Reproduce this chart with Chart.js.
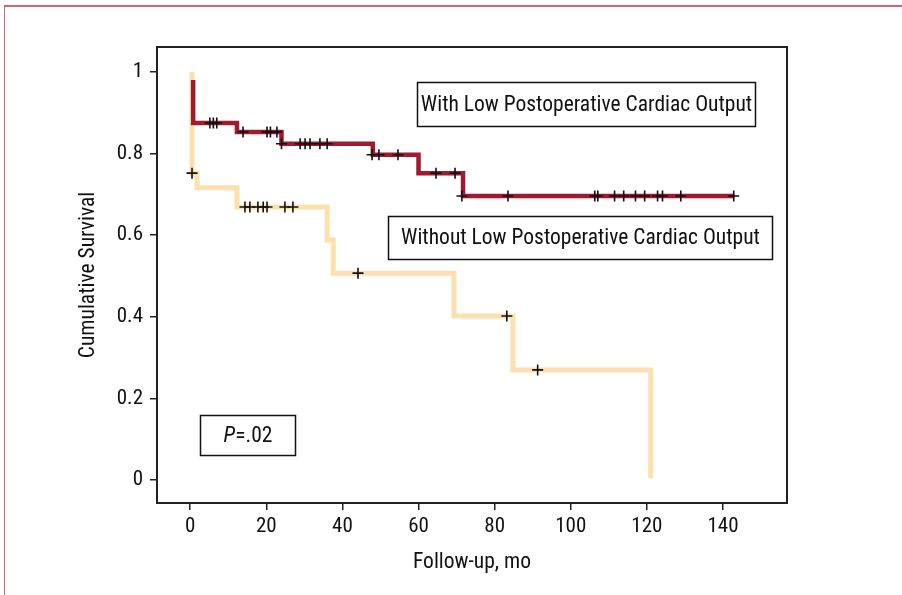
<!DOCTYPE html>
<html>
<head>
<meta charset="utf-8">
<script src="https://cdn.jsdelivr.net/npm/chart.js@4"></script>
<style>
  html, body { margin: 0; padding: 0; background: #fff; }
  #wrap { position: relative; width: 902px; height: 595px; }
  #frame { position: absolute; left: 4px; top: 5px; right: 0; bottom: 0; border-top: 2px solid #c9687b; border-left: 1px solid #c9687b; pointer-events: none; }
</style>
</head>
<body>
<div id="wrap">
  <canvas id="kmChart" width="902" height="595"></canvas>
  <div id="frame"></div>
</div>
<script>
// Kaplan-Meier steps (x = months, y = cumulative survival)
const withLowX = [0.8, 0.8, 12.3, 24, 48, 60, 71.7, 143];
const withLowY = [0.98, 0.875, 0.853, 0.824, 0.797, 0.752, 0.696, 0.696];
const withoutLowX = [0.5, 0.5, 1.8, 12.3, 36, 37.6, 69.3, 84.8, 121];
const withoutLowY = [1.0, 0.752, 0.716, 0.669, 0.588, 0.507, 0.402, 0.27, 0.005];

// censored observations
const withCensorX = [5.2, 6.1, 7.0, 13.9, 20.2, 21.1, 22.8, 24, 28.9, 30.2, 31.5, 34.1, 36,
  47.8, 49.6, 54.6, 64.6, 69.6, 71.4, 83.5, 106.3, 107.1, 111.5, 113.9, 117, 119.4, 122.8, 124.1, 128.9, 142.8];
const withCensorY = [0.875, 0.875, 0.875, 0.853, 0.853, 0.853, 0.853, 0.824, 0.824, 0.824, 0.824, 0.824, 0.824,
  0.797, 0.797, 0.797, 0.752, 0.752, 0.696, 0.696, 0.696, 0.696, 0.696, 0.696, 0.696, 0.696, 0.696, 0.696, 0.696, 0.696];
const withoutCensorX = [0.5, 14.4, 15.7, 17.8, 19.2, 20.2, 24.9, 27, 44.1, 83.2, 91.3];
const withoutCensorY = [0.752, 0.669, 0.669, 0.669, 0.669, 0.669, 0.669, 0.669, 0.507, 0.402, 0.27];

const xTicks = [0, 20, 40, 60, 80, 100, 120, 140];
const yTicks = [0, 0.2, 0.4, 0.6, 0.8, 1];

const labelWith = 'With Low Postoperative Cardiac Output';
const labelWithout = 'Without Low Postoperative Cardiac Output';
const pText = '.02';

const FONT = "'Liberation Sans Narrow', 'Arial Narrow', 'Roboto Condensed', 'Liberation Sans', sans-serif";

function pts(xs, ys) {
  return xs.map((x, i) => ({ x: x, y: ys[i] }));
}

//boxes with text, placed in data units
const textBoxes = [
  { x0: 59.6, x1: 148.3, y0: 0.975, y1: 0.868, text: labelWith },
  { x0: 52, x1: 152.8, y0: 0.647, y1: 0.542, text: labelWithout },
  { x0: 2.6, x1: 27.6, y0: 0.159, y1: 0.061, text: null }
];

const boxPlugin = {
  id: 'boxPlugin',
  afterDatasetsDraw(chart) {
    const { ctx, chartArea, scales } = chart;
    ctx.save();
    //frame around plot
    ctx.strokeStyle = '#222';
    ctx.lineWidth = 2;
    ctx.strokeRect(chartArea.left, chartArea.top, chartArea.right - chartArea.left, chartArea.bottom - chartArea.top);
    textBoxes.forEach(b => {
      const l = Math.round(scales.x.getPixelForValue(b.x0)) + 0.5;
      const r = Math.round(scales.x.getPixelForValue(b.x1)) + 0.5;
      const t = Math.round(scales.y.getPixelForValue(b.y0)) + 0.5;
      const bt = Math.round(scales.y.getPixelForValue(b.y1)) + 0.5;
      ctx.fillStyle = '#fff';
      ctx.fillRect(l, t, r - l, bt - t);
      ctx.strokeStyle = '#111';
      ctx.lineWidth = 1.5;
      ctx.strokeRect(l, t, r - l, bt - t);
      ctx.fillStyle = '#111';
      ctx.textBaseline = 'middle';
      const cx = (l + r) / 2, cy = (t + bt) / 2 + 1;
      if (b.text) {
        ctx.font = '21.5px ' + FONT;
        ctx.textAlign = 'center';
        ctx.fillText(b.text, cx, cy);
      } else {
        ctx.font = 'italic 21.5px ' + FONT;
        const w1 = ctx.measureText('P').width;
        ctx.font = '21.5px ' + FONT;
        const w2 = ctx.measureText('=' + pText).width;
        let sx = cx - (w1 + w2) / 2;
        ctx.textAlign = 'left';
        ctx.font = 'italic 21.5px ' + FONT;
        ctx.fillText('P', sx, cy);
        ctx.font = '21.5px ' + FONT;
        ctx.fillText('=' + pText, sx + w1, cy);
      }
    });
    ctx.restore();
  }
};

const ctx = document.getElementById('kmChart').getContext('2d');
const chart = new Chart(ctx, {
  type: 'scatter',
  data: {
    datasets: [
      { label: 'censor with', data: pts(withCensorX, withCensorY), showLine: false, pointStyle: 'cross', pointRadius: 5.5, borderColor: '#111', borderWidth: 1.6, order: 0 },
      { label: 'censor without', data: pts(withoutCensorX, withoutCensorY), showLine: false, pointStyle: 'cross', pointRadius: 5.5, borderColor: '#111', borderWidth: 1.6, order: 0 },
      { label: labelWith, data: pts(withLowX, withLowY), showLine: true, stepped: true, borderColor: '#9e1b32', borderWidth: 4.5, pointRadius: 0, order: 1 },
      { label: labelWithout, data: pts(withoutLowX, withoutLowY), showLine: true, stepped: true, borderColor: '#fde0ae', borderWidth: 5, pointRadius: 0, order: 2 }
    ]
  },
  options: {
    responsive: false,
    animation: false,
    layout: { padding: { top: 47, right: 115, left: 0, bottom: 0 } },
    plugins: { legend: { display: false }, tooltip: { enabled: false } },
    scales: {
      x: {
        type: 'linear', min: -8.7, max: 156.8,
        afterBuildTicks: s => { s.ticks = xTicks.map(v => ({ value: v })); },
        afterFit: s => { s.height = 92; },
        grid: { display: true, drawOnChartArea: false, drawTicks: true, tickLength: 7, color: '#222', lineWidth: 1.5 },
        border: { display: false },
        ticks: { color: '#111', padding: 4, font: { family: FONT, size: 21 }, maxRotation: 0, callback: v => String(v) },
        title: { display: true, text: 'Follow-up, mo', color: '#111', font: { family: FONT, size: 21.5 }, padding: { bottom: 19, top: 0 } }
      },
      y: {
        type: 'linear', min: -0.056, max: 1.061,
        afterBuildTicks: s => { s.ticks = yTicks.map(v => ({ value: v })); },
        afterFit: s => { s.width = 157; },
        grid: { display: true, drawOnChartArea: false, drawTicks: true, tickLength: 7, color: '#222', lineWidth: 1.5 },
        border: { display: false },
        ticks: { color: '#111', padding: 7, font: { family: FONT, size: 21 }, callback: v => String(v) },
        title: { display: true, text: 'Cumulative Survival', color: '#111', font: { family: FONT, size: 21.5 }, padding: { top: 76, bottom: 0 } }
      }
    }
  },
  plugins: [boxPlugin]
});
</script>
</body>
</html>
